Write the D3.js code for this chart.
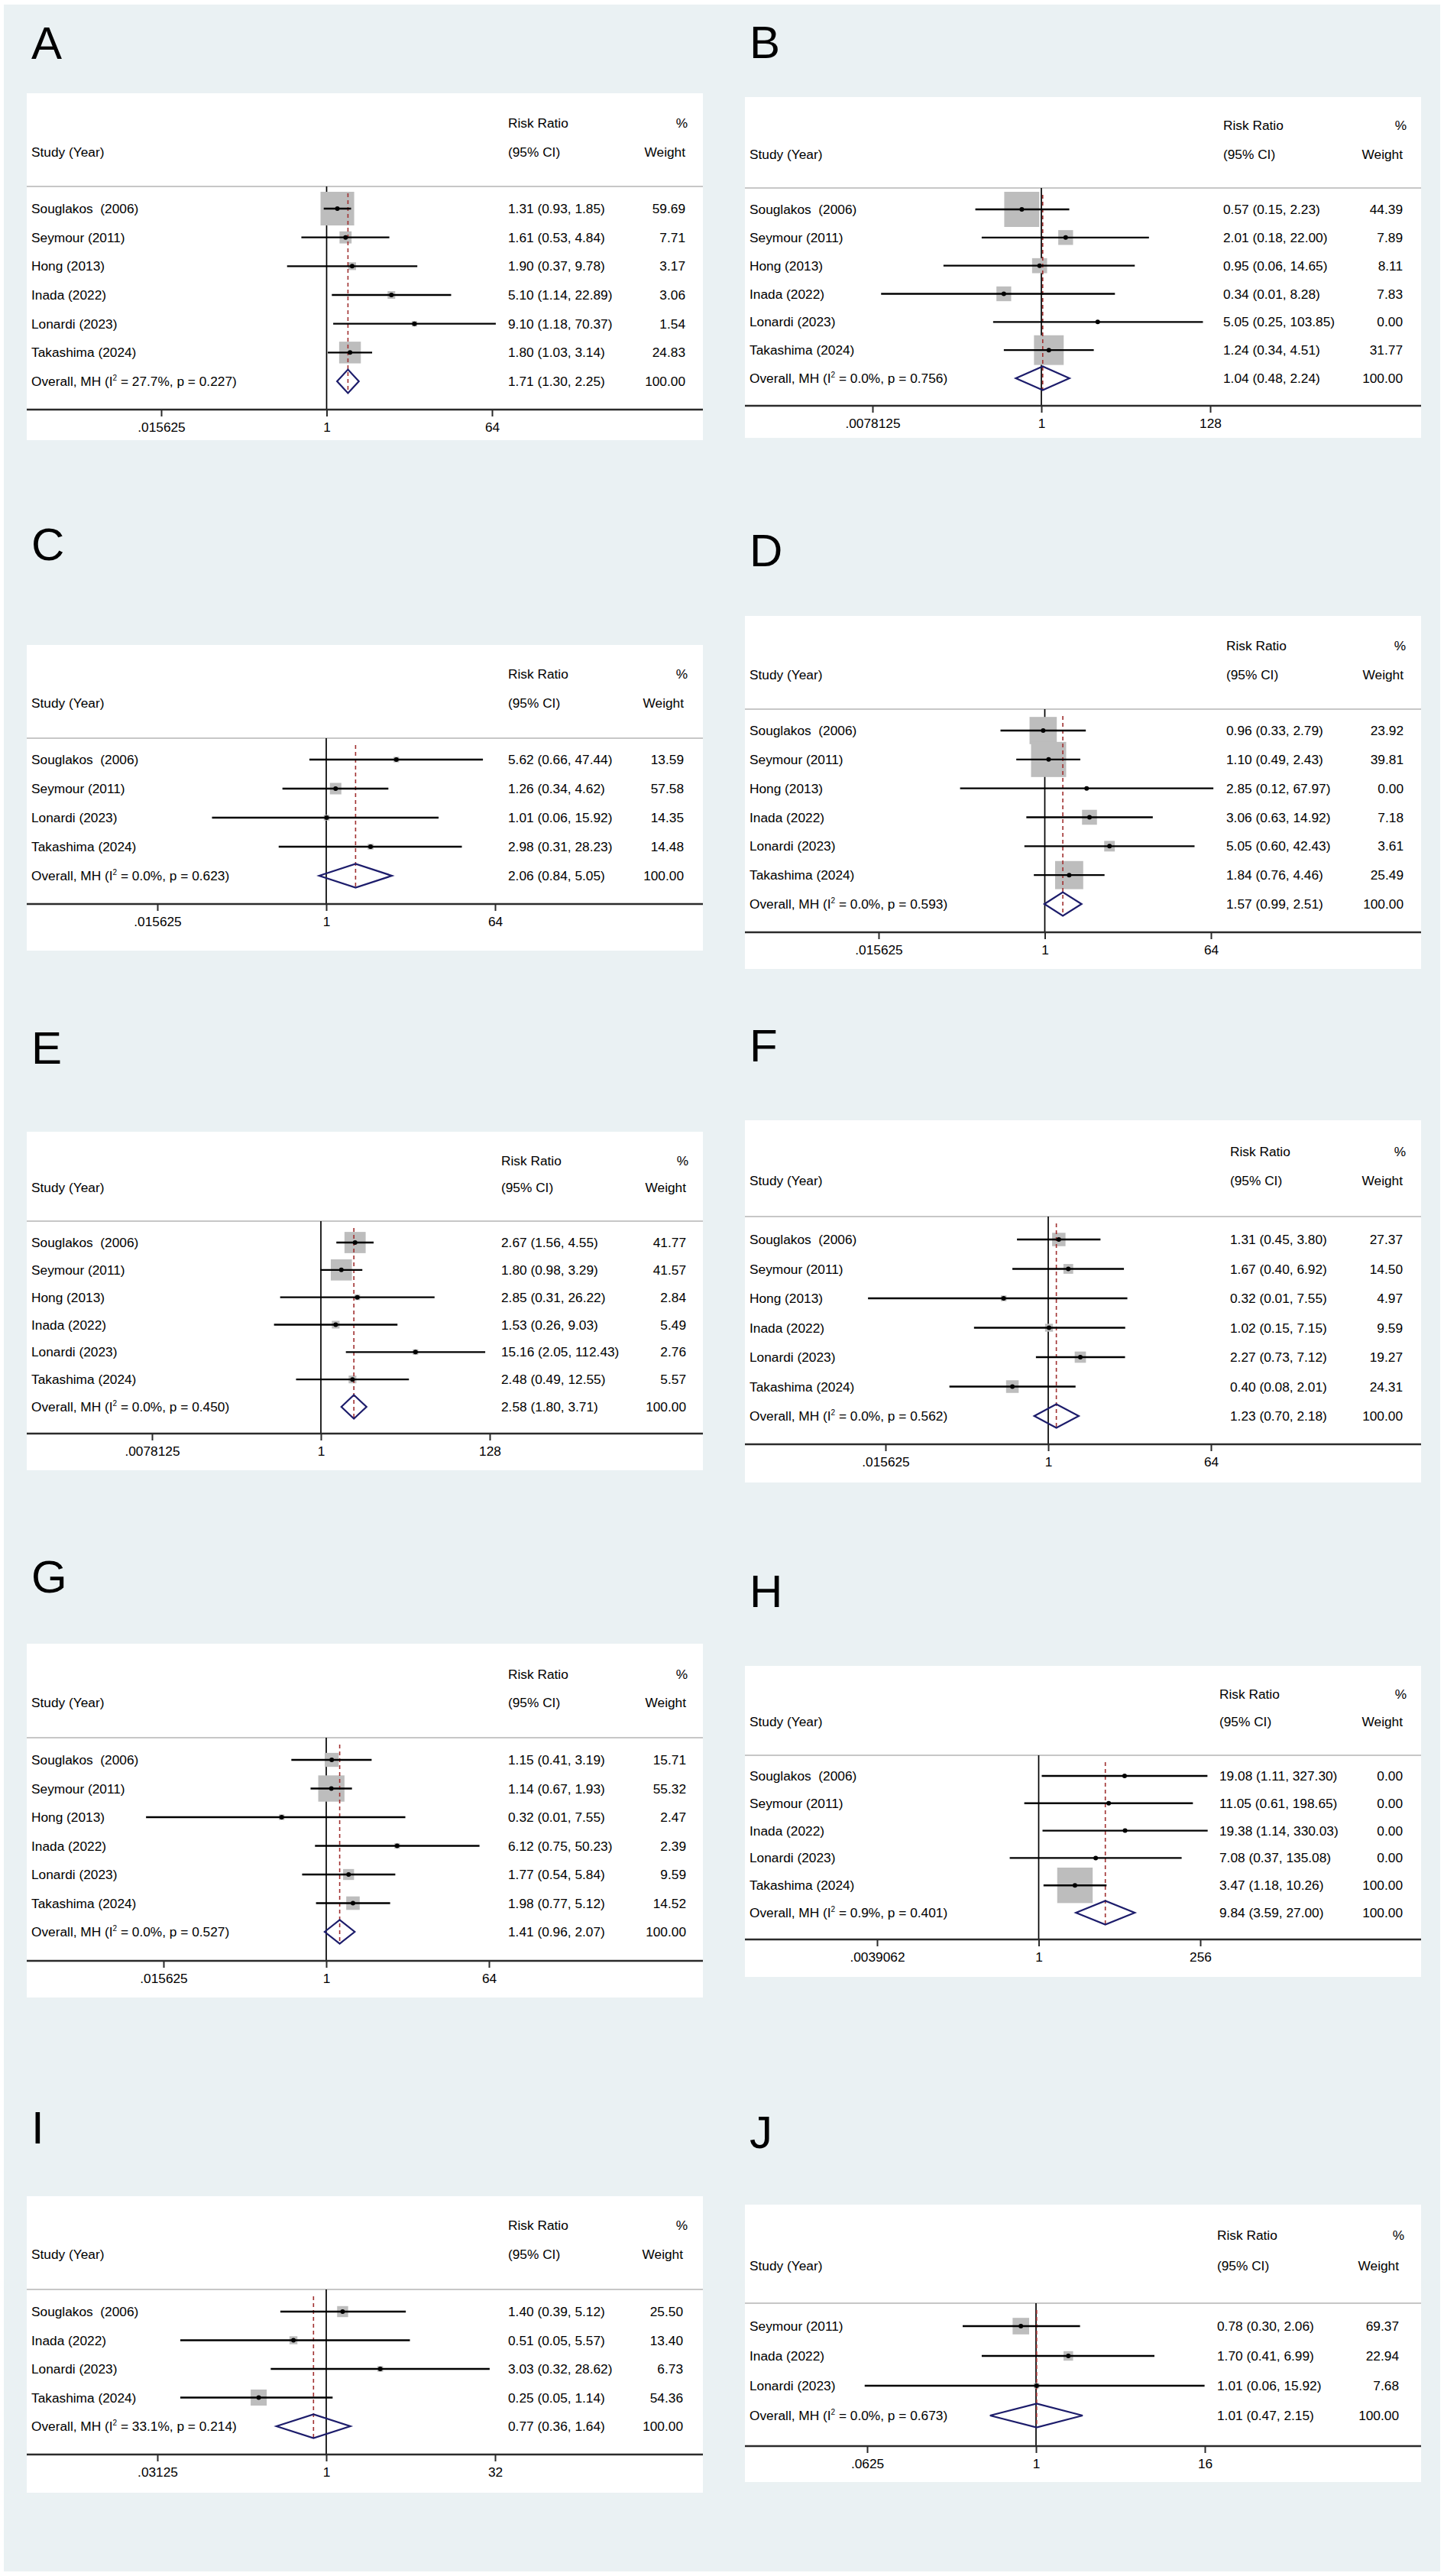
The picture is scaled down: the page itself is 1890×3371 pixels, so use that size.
<!DOCTYPE html>
<html>
<head>
<meta charset="utf-8">
<script src="https://cdn.jsdelivr.net/npm/d3@7"></script>
<style>
  html, body { margin: 0; padding: 0; background: #fff; }
  svg { display: block; }
  text { font-family: "Liberation Sans", Arial, sans-serif; fill: #000; white-space: pre; }
</style>
</head>
<body>
<svg id="chart" width="1890" height="3371"></svg>
<script>
// ---- data: one small array per panel, rows = [study, RR, lower, upper, % weight]
const panelLetters = ['A', 'B', 'C', 'D', 'E', 'F', 'G', 'H', 'I', 'J'];

const rowsA = [
  ['Souglakos  (2006)', 1.31, 0.93, 1.85, 59.69],
  ['Seymour (2011)', 1.61, 0.53, 4.84, 7.71],
  ['Hong (2013)', 1.90, 0.37, 9.78, 3.17],
  ['Inada (2022)', 5.10, 1.14, 22.89, 3.06],
  ['Lonardi (2023)', 9.10, 1.18, 70.37, 1.54],
  ['Takashima (2024)', 1.80, 1.03, 3.14, 24.83]
];
const rowsB = [
  ['Souglakos  (2006)', 0.57, 0.15, 2.23, 44.39],
  ['Seymour (2011)', 2.01, 0.18, 22.00, 7.89],
  ['Hong (2013)', 0.95, 0.06, 14.65, 8.11],
  ['Inada (2022)', 0.34, 0.01, 8.28, 7.83],
  ['Lonardi (2023)', 5.05, 0.25, 103.85, 0.00],
  ['Takashima (2024)', 1.24, 0.34, 4.51, 31.77]
];
const rowsC = [
  ['Souglakos  (2006)', 5.62, 0.66, 47.44, 13.59],
  ['Seymour (2011)', 1.26, 0.34, 4.62, 57.58],
  ['Lonardi (2023)', 1.01, 0.06, 15.92, 14.35],
  ['Takashima (2024)', 2.98, 0.31, 28.23, 14.48]
];
const rowsD = [
  ['Souglakos  (2006)', 0.96, 0.33, 2.79, 23.92],
  ['Seymour (2011)', 1.10, 0.49, 2.43, 39.81],
  ['Hong (2013)', 2.85, 0.12, 67.97, 0.00],
  ['Inada (2022)', 3.06, 0.63, 14.92, 7.18],
  ['Lonardi (2023)', 5.05, 0.60, 42.43, 3.61],
  ['Takashima (2024)', 1.84, 0.76, 4.46, 25.49]
];
const rowsE = [
  ['Souglakos  (2006)', 2.67, 1.56, 4.55, 41.77],
  ['Seymour (2011)', 1.80, 0.98, 3.29, 41.57],
  ['Hong (2013)', 2.85, 0.31, 26.22, 2.84],
  ['Inada (2022)', 1.53, 0.26, 9.03, 5.49],
  ['Lonardi (2023)', 15.16, 2.05, 112.43, 2.76],
  ['Takashima (2024)', 2.48, 0.49, 12.55, 5.57]
];
const rowsF = [
  ['Souglakos  (2006)', 1.31, 0.45, 3.80, 27.37],
  ['Seymour (2011)', 1.67, 0.40, 6.92, 14.50],
  ['Hong (2013)', 0.32, 0.01, 7.55, 4.97],
  ['Inada (2022)', 1.02, 0.15, 7.15, 9.59],
  ['Lonardi (2023)', 2.27, 0.73, 7.12, 19.27],
  ['Takashima (2024)', 0.40, 0.08, 2.01, 24.31]
];
const rowsG = [
  ['Souglakos  (2006)', 1.15, 0.41, 3.19, 15.71],
  ['Seymour (2011)', 1.14, 0.67, 1.93, 55.32],
  ['Hong (2013)', 0.32, 0.01, 7.55, 2.47],
  ['Inada (2022)', 6.12, 0.75, 50.23, 2.39],
  ['Lonardi (2023)', 1.77, 0.54, 5.84, 9.59],
  ['Takashima (2024)', 1.98, 0.77, 5.12, 14.52]
];
const rowsH = [
  ['Souglakos  (2006)', 19.08, 1.11, 327.30, 0.00],
  ['Seymour (2011)', 11.05, 0.61, 198.65, 0.00],
  ['Inada (2022)', 19.38, 1.14, 330.03, 0.00],
  ['Lonardi (2023)', 7.08, 0.37, 135.08, 0.00],
  ['Takashima (2024)', 3.47, 1.18, 10.26, 100.00]
];
const rowsI = [
  ['Souglakos  (2006)', 1.40, 0.39, 5.12, 25.50],
  ['Inada (2022)', 0.51, 0.05, 5.57, 13.40],
  ['Lonardi (2023)', 3.03, 0.32, 28.62, 6.73],
  ['Takashima (2024)', 0.25, 0.05, 1.14, 54.36]
];
const rowsJ = [
  ['Seymour (2011)', 0.78, 0.30, 2.06, 69.37],
  ['Inada (2022)', 1.70, 0.41, 6.99, 22.94],
  ['Lonardi (2023)', 1.01, 0.06, 15.92, 7.68]
];
const studyRows = [rowsA, rowsB, rowsC, rowsD, rowsE, rowsF, rowsG, rowsH, rowsI, rowsJ];

// pooled Mantel-Haenszel estimates
const overallRR = [1.71, 1.04, 2.06, 1.57, 2.58, 1.23, 1.41, 9.84, 0.77, 1.01];
const overallLo = [1.30, 0.48, 0.84, 0.99, 1.80, 0.70, 0.96, 3.59, 0.36, 0.47];
const overallHi = [2.25, 2.24, 5.05, 2.51, 3.71, 2.18, 2.07, 27.00, 1.64, 2.15];
const overallI2 = [27.7, 0.0, 0.0, 0.0, 0.0, 0.0, 0.0, 0.9, 33.1, 0.0];
const overallP = [0.227, 0.756, 0.623, 0.593, 0.450, 0.562, 0.527, 0.401, 0.214, 0.673];

// x axis ticks (log scale, base 2)
const tickValues = [
  [1 / 64, 1, 64], [1 / 128, 1, 128], [1 / 64, 1, 64], [1 / 64, 1, 64], [1 / 128, 1, 128],
  [1 / 64, 1, 64], [1 / 64, 1, 64], [1 / 256, 1, 256], [1 / 32, 1, 32], [1 / 16, 1, 16]
];
const tickLabels = [
  ['.015625', '1', '64'], ['.0078125', '1', '128'], ['.015625', '1', '64'], ['.015625', '1', '64'],
  ['.0078125', '1', '128'], ['.015625', '1', '64'], ['.015625', '1', '64'], ['.0039062', '1', '256'],
  ['.03125', '1', '32'], ['.0625', '1', '16']
];

// ---- panel geometry (px)
const layout = [
  { x0: 35,  x1: 920,  top: 122,  bottom: 576,  letterY: 77,   rrY: 167,  ciY: 205,  hline: 244,  row1: 273,  rowN: 499,  axisY: 536,  tickX: [211, 644],   textX: 665,  wRight: 897,  pRight: 900,  boxK: 5.7 },
  { x0: 975, x1: 1860, top: 127,  bottom: 573,  letterY: 76,   rrY: 170,  ciY: 208,  hline: 246,  row1: 274,  rowN: 495,  axisY: 531,  tickX: [1142, 1584], textX: 1601, wRight: 1836, pRight: 1841, boxK: 6.9 },
  { x0: 35,  x1: 920,  top: 844,  bottom: 1244, letterY: 733,  rrY: 888,  ciY: 926,  hline: 966,  row1: 994,  rowN: 1146, axisY: 1183, tickX: [206, 648],   textX: 665,  wRight: 895,  pRight: 900,  boxK: 1.98 },
  { x0: 975, x1: 1860, top: 806,  bottom: 1268, letterY: 741,  rrY: 851,  ciY: 889,  hline: 928,  row1: 956,  rowN: 1183, axisY: 1220, tickX: [1150, 1585], textX: 1605, wRight: 1837, pRight: 1840, boxK: 7.29 },
  { x0: 35,  x1: 920,  top: 1481, bottom: 1924, letterY: 1392, rrY: 1525, ciY: 1560, hline: 1598, row1: 1626, rowN: 1841, axisY: 1876, tickX: [199, 641],   textX: 656,  wRight: 898,  pRight: 901,  boxK: 4.29 },
  { x0: 975, x1: 1860, top: 1466, bottom: 1940, letterY: 1389, rrY: 1513, ciY: 1551, hline: 1592, row1: 1622, rowN: 1853, axisY: 1890, tickX: [1159, 1585], textX: 1610, wRight: 1836, pRight: 1840, boxK: 3.35 },
  { x0: 35,  x1: 920,  top: 2151, bottom: 2614, letterY: 2084, rrY: 2197, ciY: 2234, hline: 2274, row1: 2303, rowN: 2528, axisY: 2566, tickX: [214, 640],   textX: 665,  wRight: 898,  pRight: 900,  boxK: 4.62 },
  { x0: 975, x1: 1860, top: 2180, bottom: 2587, letterY: 2103, rrY: 2223, ciY: 2259, hline: 2297, row1: 2324, rowN: 2503, axisY: 2538, tickX: [1148, 1571], textX: 1596, wRight: 1836, pRight: 1841, boxK: 4.64 },
  { x0: 35,  x1: 920,  top: 2874, bottom: 3262, letterY: 2805, rrY: 2918, ciY: 2956, hline: 2996, row1: 3025, rowN: 3175, axisY: 3212, tickX: [206, 648],   textX: 665,  wRight: 894,  pRight: 900,  boxK: 2.85 },
  { x0: 975, x1: 1860, top: 2885, bottom: 3248, letterY: 2811, rrY: 2931, ciY: 2971, hline: 3014, row1: 3044, rowN: 3161, axisY: 3201, tickX: [1135, 1577], textX: 1593, wRight: 1831, pRight: 1838, boxK: 2.6 }
];

const FS = 17.3;
const svg = d3.select('#chart');

// light bluish graph region behind all panels
svg.append('rect')
  .attr('x', 5).attr('y', 6)
  .attr('width', 1880).attr('height', 3359)
  .attr('fill', '#eaf1f3');

const fmt2 = d3.format('.2f');

function drawPanel(i) {
  const L = layout[i];
  const rows = studyRows[i];
  const g = svg.append('g');

  const x = d3.scaleLog().base(2).domain([tickValues[i][0], tickValues[i][2]]).range(L.tickX);
  const y = d3.scalePoint().domain(d3.range(rows.length + 1)).range([L.row1, L.rowN]);
  const yOverall = y(rows.length);
  const dh = 15.5;

  // panel letter
  g.append('text')
    .attr('x', L.x0 + 6).attr('y', L.letterY)
    .attr('font-size', 60)
    .text(panelLetters[i]);

  // white plot region
  g.append('rect')
    .attr('x', L.x0).attr('y', L.top)
    .attr('width', L.x1 - L.x0).attr('height', L.bottom - L.top)
    .attr('fill', '#fff');

  // header
  const head = g.append('g').attr('font-size', FS);
  head.append('text').attr('x', L.x0 + 6).attr('y', L.ciY).text('Study (Year)');
  head.append('text').attr('x', L.textX).attr('y', L.rrY).text('Risk Ratio');
  head.append('text').attr('x', L.textX).attr('y', L.ciY).text('(95% CI)');
  head.append('text').attr('x', L.pRight).attr('y', L.rrY).attr('text-anchor', 'end').text('%');
  head.append('text').attr('x', L.wRight).attr('y', L.ciY).attr('text-anchor', 'end').text('Weight');

  g.append('line')
    .attr('x1', L.x0).attr('x2', L.x1)
    .attr('y1', L.hline).attr('y2', L.hline)
    .attr('stroke', '#b4b4b4').attr('stroke-width', 1.6);

  // line of no effect
  g.append('line')
    .attr('x1', x(1)).attr('x2', x(1))
    .attr('y1', L.hline).attr('y2', L.axisY)
    .attr('stroke', '#000').attr('stroke-width', 1.7);

  // weight boxes
  g.append('g').selectAll('rect')
    .data(rows.filter(d => d[4] > 0))
    .join('rect')
    .attr('x', d => x(d[1]) - L.boxK * Math.sqrt(d[4]) / 2)
    .attr('y', d => y(rows.indexOf(d)) - L.boxK * Math.sqrt(d[4]) / 2)
    .attr('width', d => L.boxK * Math.sqrt(d[4]))
    .attr('height', d => L.boxK * Math.sqrt(d[4]))
    .attr('fill', '#bdbdbd');

  // pooled estimate dashed line
  g.append('line')
    .attr('x1', x(overallRR[i])).attr('x2', x(overallRR[i]))
    .attr('y1', L.hline + 9).attr('y2', yOverall + dh)
    .attr('stroke', '#a03030').attr('stroke-width', 1.6)
    .attr('stroke-dasharray', '5,4');

  // confidence intervals
  g.append('g').selectAll('line')
    .data(rows)
    .join('line')
    .attr('x1', d => x(d[2])).attr('x2', d => x(d[3]))
    .attr('y1', (d, j) => y(j)).attr('y2', (d, j) => y(j))
    .attr('stroke', '#000').attr('stroke-width', 2.4);

  // point estimates
  g.append('g').selectAll('circle')
    .data(rows)
    .join('circle')
    .attr('cx', d => x(d[1])).attr('cy', (d, j) => y(j))
    .attr('r', 3).attr('fill', '#000');

  // pooled diamond
  const xs = [x(overallLo[i]), x(overallRR[i]), x(overallHi[i]), x(overallRR[i])];
  const ys = [yOverall, yOverall - dh, yOverall, yOverall + dh];
  g.append('path')
    .attr('d', d3.line()(xs.map((v, k) => [v, ys[k]])) + 'Z')
    .attr('fill', 'none')
    .attr('stroke', '#1c1c6b').attr('stroke-width', 2.2)
    .attr('stroke-linejoin', 'miter');

  // row texts
  const txt = g.append('g').attr('font-size', FS);
  rows.forEach((d, j) => {
    const yy = y(j);
    txt.append('text').attr('x', L.x0 + 6).attr('y', yy).attr('dy', '0.35em').text(d[0]);
    txt.append('text').attr('x', L.textX).attr('y', yy).attr('dy', '0.35em')
      .text(`${fmt2(d[1])} (${fmt2(d[2])}, ${fmt2(d[3])})`);
    txt.append('text').attr('x', L.wRight).attr('y', yy).attr('dy', '0.35em')
      .attr('text-anchor', 'end').text(fmt2(d[4]));
  });

  const ov = txt.append('text').attr('x', L.x0 + 6).attr('y', yOverall + 6);
  ov.append('tspan').text('Overall, MH (I');
  ov.append('tspan').attr('font-size', 10).attr('dy', -7).text('2');
  ov.append('tspan').attr('dy', 7).text(` = ${overallI2[i].toFixed(1)}%, p = ${overallP[i].toFixed(3)})`);
  txt.append('text').attr('x', L.textX).attr('y', yOverall).attr('dy', '0.35em')
    .text(`${fmt2(overallRR[i])} (${fmt2(overallLo[i])}, ${fmt2(overallHi[i])})`);
  txt.append('text').attr('x', L.wRight).attr('y', yOverall).attr('dy', '0.35em')
    .attr('text-anchor', 'end').text('100.00');

  // x axis
  g.append('line')
    .attr('x1', L.x0).attr('x2', L.x1)
    .attr('y1', L.axisY).attr('y2', L.axisY)
    .attr('stroke', '#2b2b2b').attr('stroke-width', 2.4);

  const axis = d3.axisBottom(x)
    .tickValues(tickValues[i])
    .tickFormat((v, k) => tickLabels[i][k])
    .tickSize(9)
    .tickSizeOuter(0)
    .tickPadding(8);

  const ax = g.append('g')
    .attr('transform', `translate(0,${L.axisY})`)
    .call(axis);
  ax.select('.domain').remove();
  ax.selectAll('.tick line').attr('stroke', '#2b2b2b').attr('stroke-width', 2);
  ax.selectAll('.tick text')
    .attr('font-size', FS)
    .attr('font-family', '"Liberation Sans", Arial, sans-serif')
    .attr('fill', '#000');
}

panelLetters.forEach((_, i) => drawPanel(i));
</script>
</body>
</html>
